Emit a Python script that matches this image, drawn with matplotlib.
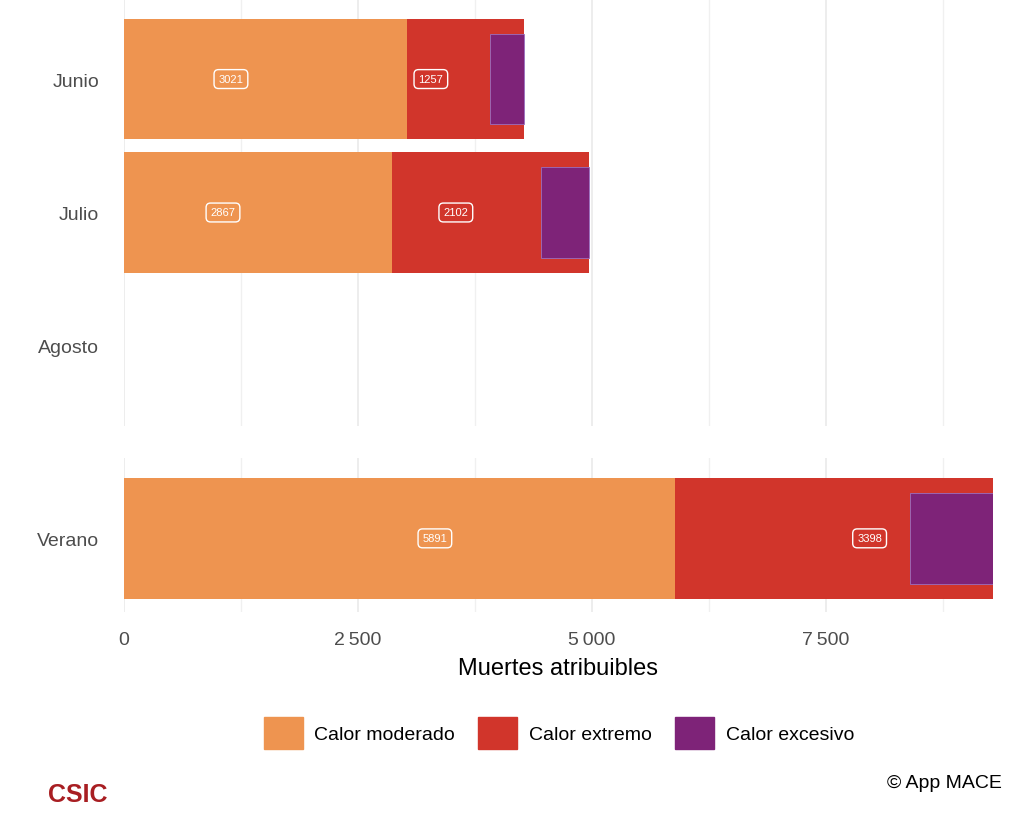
import matplotlib.pyplot as plt
from matplotlib.patches import Patch
from matplotlib.ticker import FuncFormatter, MultipleLocator

plt.rcParams["font.family"] = ["Liberation Sans", "DejaVu Sans"]

meses = ["Junio", "Julio", "Agosto"]
moderado = [3021, 2867, 0]
extremo = [1257, 2102, 0]
excesivo = [363, 514, 0]
verano_mod, verano_ext, verano_exc = 5891, 3398, 892
# label x positions
lab_mod_x = [1143, 1058]
lab_ext_x = [3280, 3547]
lab_ver_x = [3323, 7970]

c_mod, c_ext, c_exc = "#EE9450", "#D1352B", "#7E2378"
W, H = 1024, 820
fig = plt.figure(figsize=(W / 100, H / 100), dpi=100)
x0, x1 = 124 / W, 993 / W
ax1 = fig.add_axes([x0, 1 - 427 / H, x1 - x0, 427 / H])
ax2 = fig.add_axes([x0, 1 - 613 / H, x1 - x0, (613 - 459) / H])

def fmt(v, p):
    return f"{int(v):,}".replace(",", "\u2009") if v else "0"

def style(ax):
    ax.set_xlim(0, 9289)
    ax.xaxis.set_major_locator(MultipleLocator(2500))
    ax.xaxis.set_minor_locator(MultipleLocator(1250))
    ax.grid(True, axis="x", which="major", color="#e8e8e8", lw=1.1)
    ax.grid(True, axis="x", which="minor", color="#f0f0f0", lw=1.0)
    ax.set_axisbelow(True)
    for s in ax.spines.values():
        s.set_visible(False)
    ax.tick_params(which="both", length=0)
    ax.tick_params(labelsize=14, colors="#4d4d4d", pad=18)

def label(ax, x, y, v):
    ax.text(x, y, str(v), ha="center", va="center", color="white", fontsize=8,
            bbox=dict(boxstyle="round,pad=0.4", fc="none", ec="white", lw=1))

ys = [i for i, m in enumerate(moderado) if m > 0]
mod = [moderado[i] for i in ys]
ext = [extremo[i] for i in ys]
exc = [excesivo[i] for i in ys]
ax1.barh(ys, mod, height=0.9, color=c_mod)
ax1.barh(ys, ext, left=mod, height=0.9, color=c_ext)
tot = [m + e for m, e in zip(mod, ext)]
ax1.barh(ys, exc, left=[t - x for t, x in zip(tot, exc)], height=0.68,
         color=c_exc, edgecolor="#9a6fc0", lw=0.6)
for i in ys:
    label(ax1, lab_mod_x[i], i, moderado[i])
    label(ax1, lab_ext_x[i], i, extremo[i])
ax1.set_yticks(range(len(meses)), meses)
ax1.set_ylim(2.6, -0.6)
ax1.set_xticklabels([])
style(ax1)

ax2.barh([0], [verano_mod], height=0.9, color=c_mod)
ax2.barh([0], [verano_ext], left=[verano_mod], height=0.9, color=c_ext)
ax2.barh([0], [verano_exc], left=[verano_mod + verano_ext - verano_exc], height=0.68,
         color=c_exc, edgecolor="#9a6fc0", lw=0.6)
label(ax2, lab_ver_x[0], 0, verano_mod)
label(ax2, lab_ver_x[1], 0, verano_ext)
ax2.set_yticks([0], ["Verano"])
ax2.set_ylim(0.55, -0.6)
style(ax2)
ax2.tick_params(axis="x", pad=14)
ax2.xaxis.set_major_formatter(FuncFormatter(fmt))
ax2.set_xlabel("Muertes atribuibles", fontsize=17, labelpad=6)

handles = [Patch(color=c_mod, label="Calor moderado"),
           Patch(color=c_ext, label="Calor extremo"),
           Patch(color=c_exc, label="Calor excesivo")]
fig.legend(handles=handles, loc="center", bbox_to_anchor=(559 / W, 1 - 734 / H), ncol=3,
           frameon=False, fontsize=14, handlelength=2.0, handleheight=2.2,
           columnspacing=1.2, handletextpad=0.6)
fig.text(48 / W, 1 - 795 / H, "CSIC", color="#a81e22", fontsize=18, fontweight="bold", va="center")
fig.text(1002 / W, 1 - 784 / H, "© App MACE", fontsize=14, ha="right", va="center")
fig.savefig("out.png", dpi=100)
